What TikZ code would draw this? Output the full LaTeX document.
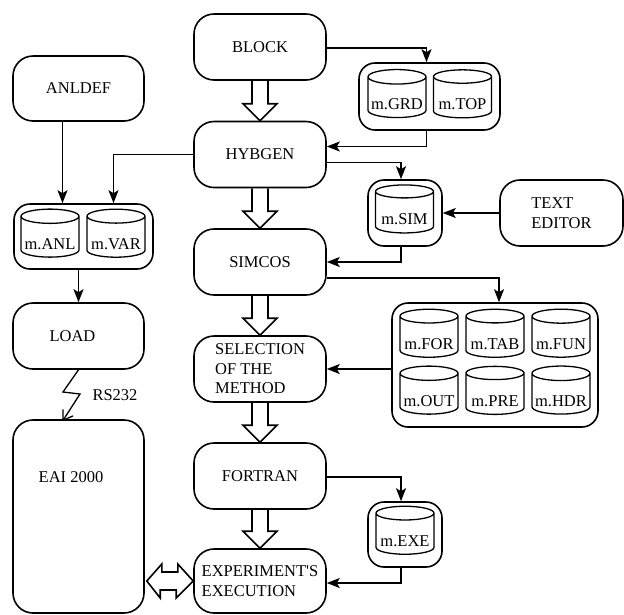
\documentclass[tikz,border=0pt]{standalone}
\usepackage{fontspec}
\setmainfont{Liberation Serif}
\newfontfamily\diagfont{Liberation Serif}
\usetikzlibrary{calc,shapes.geometric,arrows.meta}
\tikzset{
  proc/.style={draw,line width=1.6pt,rounded corners=20pt,minimum width=132pt,minimum height=66pt,align=center},
  store/.style={draw,line width=1.6pt,rounded corners=16pt},
  db/.style={draw,line width=1.3pt,cylinder,shape border rotate=90,aspect=0.28,minimum width=58pt,minimum height=48pt,inner sep=0pt,text height=24pt,text depth=0pt},
  arr/.style={line width=1.6pt,-{Stealth[length=13pt,width=10pt,inset=3pt]}},
  fat/.style={line width=1.6pt,line join=miter}
}
\begin{document}
\begin{tikzpicture}[x=1pt,y=-1pt,font=\diagfont\fontsize{16.5}{19.5}\selectfont]
\useasboundingbox (0,0) rectangle (624,614);
% main column
\node[proc] (BLOCK) at (260,47) {BLOCK};
\node[proc] (HYBGEN) at (260,154.5) {HYBGEN};
\node[proc] (SIMCOS) at (260,262) {SIMCOS};
\node[proc,align=left] (SELECT) at (260,369) {SELECTION\\OF THE\\METHOD};
\node[proc] (FORTRAN) at (260,476) {FORTRAN};
\node[proc,align=left,minimum height=64pt] (EXP) at (260,581) {EXPERIMENT'S\\EXECUTION};
% left column
\node[proc,minimum width=131pt,minimum height=65pt] (ANLDEF) at (78.5,88.5) {ANLDEF};
\node[store,minimum width=139pt,minimum height=65pt] (anlbox) at (83.5,236.5) {};
\node[db] (ANL) at (50,237) {m.ANL};
\node[db] (VAR) at (116,237) {m.VAR};
\node[proc,minimum width=131pt] (LOAD) at (78.5,336) {\hspace*{-12pt}LOAD};
\node[proc,minimum width=131pt,minimum height=193pt] (EAI) at (78.5,516.5) {};
\node (eailabel) at (71,477) {EAI 2000};
\node (rs) at (115,395) {RS232};
% right column
\node[store,minimum width=141pt,minimum height=67pt] (grdbox) at (429.5,96.5) {};
\node[db] (GRD) at (397,97.5) {m.GRD};
\node[db] (TOP) at (462.5,97.5) {m.TOP};
\node[store,minimum width=74pt,minimum height=66pt] (simbox) at (405,213) {};
\node[db] (SIM) at (404.5,212.5) {m.SIM};
\node[proc,align=left,minimum width=123pt] (TEXT) at (561.5,213) {TEXT\\EDITOR};
\node[store,minimum width=206pt,minimum height=124pt] (bigbox) at (495,365) {};
\node[db] (FOR) at (429,337) {m.FOR};
\node[db] (TAB) at (495,337) {m.TAB};
\node[db] (FUN) at (561,337) {m.FUN};
\node[db] (OUT) at (429,394) {m.OUT};
\node[db] (PRE) at (495,394) {m.PRE};
\node[db] (HDR) at (561,394) {m.HDR};
\node[store,minimum width=74pt,minimum height=65pt] (exebox) at (405,534.5) {};
\node[db] (EXE) at (405,534) {m.EXE};
% hollow arrows
\foreach \a/\b in {BLOCK/HYBGEN,HYBGEN/SIMCOS,SIMCOS/SELECT,SELECT/FORTRAN,FORTRAN/EXP}
  \draw[fat] ([xshift=-8pt]\a.south) -- ([xshift=-8pt,yshift=17pt]\b.north) -- ([xshift=-17pt,yshift=17pt]\b.north)
    -- (\b.north) -- ([xshift=17pt,yshift=17pt]\b.north) -- ([xshift=8pt,yshift=17pt]\b.north) -- ([xshift=8pt]\a.south);
\draw[fat] ([xshift=2pt]EAI.east |- EXP.west) -- ++(15,-17) -- ++(0,8) -- ++(16,0) -- ++(0,-8) -- (EXP.west)
  -- ++(-17,17) -- ++(0,-8) -- ++(-16,0) -- ++(0,8) -- cycle;
% connectors
\draw[arr] ([xshift=-16pt]ANLDEF.south) -- ([xshift=-16pt]ANLDEF.south |- anlbox.north);
\draw[arr] (HYBGEN.west) -| ([xshift=30pt]anlbox.north);
\draw[arr] (LOAD.north |- anlbox.south) -- (LOAD.north);
\draw[line width=1.3pt,-{Straight Barb[length=9pt,width=12pt]}] (LOAD.south) -- (63,392) -- (80,394) -- ([xshift=-16pt,yshift=-2pt]EAI.north);
\draw[arr] ([yshift=-1pt]BLOCK.east) -| ([xshift=-3pt]grdbox.north);
\draw[arr] ([xshift=-3pt]grdbox.south) |- ([yshift=8pt]HYBGEN.east);
\draw[arr] ([yshift=-8pt]HYBGEN.east) -| ([xshift=-4pt]simbox.north);
\draw[arr] (TEXT.west) -- (simbox.east);
\draw[arr] ([xshift=-4pt]simbox.south) |- (SIMCOS.east);
\draw[arr] ([yshift=-16pt]SIMCOS.east) -| ([xshift=4pt]bigbox.north);
\draw[arr] (bigbox.west |- SELECT.east) -- (SELECT.east);
\draw[arr] ([yshift=-1pt]FORTRAN.east) -| ([xshift=-4pt]exebox.north);
\draw[arr] ([xshift=-4pt]exebox.south) |- ([yshift=-2pt]EXP.east);
\end{tikzpicture}
\end{document}
